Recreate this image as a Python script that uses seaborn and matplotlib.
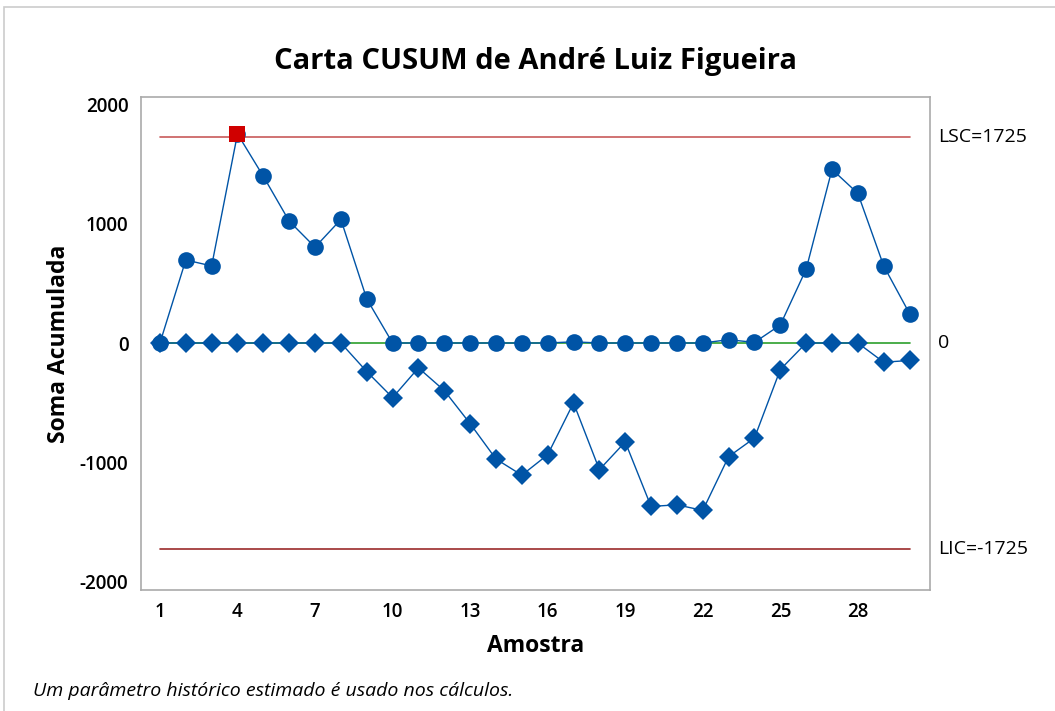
import numpy as np
import pandas as pd
import matplotlib
matplotlib.use("Agg")
import matplotlib.pyplot as plt
import seaborn as sns

# ---------------------------------------------------------------------------
# Data
# ---------------------------------------------------------------------------
amostra = list(range(1, 31))
cusum_sup = [0, 695, 645, 1750, 1395, 1020, 802, 1034, 369, 0,
             0, 0, 0, 0, 0, 0, 10, 0, 0, 0,
             0, 0, 28, 5, 151, 618, 1453, 1252, 645, 246]
cusum_inf = [0, 0, 0, 0, 0, 0, 0, 0, -239, -457,
             -208, -398, -675, -971, -1106, -935, -501, -1060, -828, -1368,
             -1354, -1401, -951, -795, -222, 0, 0, 0, -161, -146]
lsc, centro, lic = 1725, 0, -1725
fora = [4]  # amostras acima do LSC

x_ticks = [1, 4, 7, 10, 13, 16, 19, 22, 25, 28]
y_ticks = [-2000, -1000, 0, 1000, 2000]

BLUE = "#0054A6"

df = pd.DataFrame({"Amostra": amostra, "sup": cusum_sup, "inf": cusum_inf})
df_out = df[df["Amostra"].isin(fora)]

sns.set_theme(style="white")
plt.rcParams["font.family"] = ["Open Sans", "DejaVu Sans"]
plt.rcParams["axes.unicode_minus"] = False
plt.rcParams["text.color"] = "black"
plt.rcParams["axes.labelcolor"] = "black"
plt.rcParams["xtick.labelcolor"] = "black"
plt.rcParams["ytick.labelcolor"] = "black"

fig = plt.figure(figsize=(10.55, 7.11), dpi=100)
ax = fig.add_axes([0.1336, 0.1702, 0.7479, 0.6934])

# limit lines
ax.plot([1, 30], [lsc, lsc], color="#C85A5A", lw=1.2, zorder=1)
ax.plot([1, 30], [lic, lic], color="#9B2A2A", lw=1.2, zorder=1)
ax.plot([1, 30], [centro, centro], color="#2CA02C", lw=1.2, zorder=1)

sns.lineplot(data=df, x="Amostra", y="sup", ax=ax, color=BLUE, lw=1.0,
             marker="o", markersize=12, markeredgewidth=0, zorder=3)
sns.lineplot(data=df, x="Amostra", y="inf", ax=ax, color=BLUE, lw=1.0,
             marker="D", markersize=10, markeredgewidth=0, zorder=3)
sns.scatterplot(data=df_out, x="Amostra", y="sup", ax=ax, color="#D00000",
                marker="s", s=130, linewidth=0, zorder=4)

ax.set_xlim(0.265, 30.79)
ax.set_ylim(-2067, 2059)
ax.set_xticks(x_ticks)
ax.set_yticks(y_ticks)
ax.tick_params(axis="both", which="both", direction="out", length=5, width=1,
               color="#AAAAAA", labelsize=13.5, pad=4)
for lab in ax.get_xticklabels() + ax.get_yticklabels():
    lab.set_fontweight("semibold")
for sp in ax.spines.values():
    sp.set_color("#AAAAAA")
    sp.set_linewidth(1.2)

ax.set_xlabel("Amostra", fontsize=16.5, fontweight="bold", labelpad=8)
ax.set_ylabel("Soma Acumulada", fontsize=16.5, fontweight="bold", labelpad=6)
ax.set_title("Carta CUSUM de André Luiz Figueira", fontsize=21,
             fontweight="bold", pad=20)

# limit labels on the right
for val, txt in [(lsc, f"LSC={lsc}"), (centro, f"{centro}"), (lic, f"LIC={lic}")]:
    ax.annotate(txt, xy=(1.0, val), xycoords=("axes fraction", "data"),
                xytext=(6, 0), textcoords="offset points",
                va="center", ha="left", fontsize=14)

fig.text(0.031, 0.016, "Um parâmetro histórico estimado é usado nos cálculos.",
         fontsize=14, style="italic", ha="left", va="bottom")

# outer frame like the source graph
fig.patches.append(plt.Rectangle((0.004, -0.01), 1.2, 1.0, transform=fig.transFigure,
                                 fill=False, edgecolor="#CCCCCC", lw=1.2))

fig.savefig("out.png", dpi=100)
